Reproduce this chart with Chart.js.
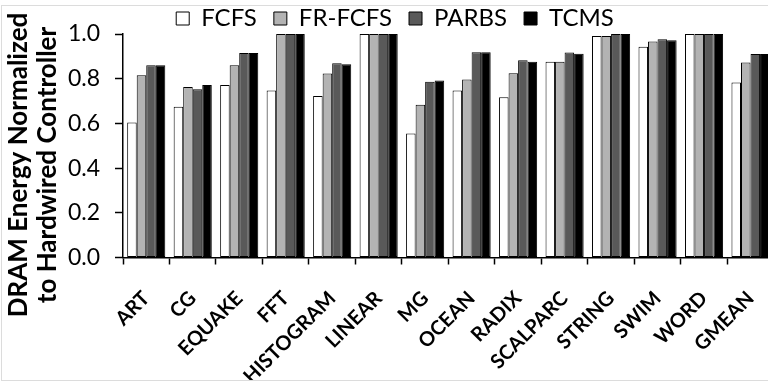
<!DOCTYPE html>
<html>
<head>
<meta charset="utf-8">
<script src="https://cdn.jsdelivr.net/npm/chart.js@4/dist/chart.umd.min.js"></script>
<style>
  html, body { margin: 0; padding: 0; background: #fff; overflow: hidden; width: 768px; height: 381px; }
  #wrap { position: absolute; left: 0; top: 0; width: 790px; height: 381px; }
  #frame { position: absolute; left: 1px; top: 5px; width: 800px; height: 374px; border: 1px solid #dcdcdc; pointer-events: none; }
</style>
</head>
<body>
<div id="wrap"><canvas id="c" width="790" height="381"></canvas></div>
<div id="frame"></div>
<script>
// Benchmarks on the x axis
const categories = ['ART', 'CG', 'EQUAKE', 'FFT', 'HISTOGRAM', 'LINEAR', 'MG', 'OCEAN',
                    'RADIX', 'SCALPARC', 'STRING', 'SWIM', 'WORD', 'GMEAN'];

// DRAM energy normalized to the hardwired controller, one array per scheduler
const fcfs   = [0.604, 0.674, 0.772, 0.747, 0.723, 1.0, 0.555, 0.747, 0.717, 0.876, 0.991, 0.943, 1.0, 0.783];
const frfcfs = [0.815, 0.763, 0.860, 1.0,   0.823, 1.0, 0.684, 0.796, 0.824, 0.876, 0.991, 0.966, 1.0, 0.872];
const parbs  = [0.860, 0.753, 0.915, 1.0,   0.869, 1.0, 0.786, 0.918, 0.882, 0.917, 1.0,   0.976, 1.0, 0.911];
const tcms   = [0.860, 0.772, 0.915, 1.0,   0.865, 1.0, 0.792, 0.918, 0.876, 0.912, 1.0,   0.972, 1.0, 0.911];

const seriesNames = ['FCFS', 'FR-FCFS', 'PARBS', 'TCMS'];
const yTicks = [0, 0.2, 0.4, 0.6, 0.8, 1.0];
const yTitle = ['DRAM Energy Normalized', 'to Hardwired Controller'];

const fills = ['#ffffff', '#b3b3b3', '#595959', '#000000'];

// Layout constants (pixels)
const PAD = { left: 14, right: 14, top: -51, bottom: 0 };
const PLOT_LEFT = 123;
const PLOT_TOP = 34;
const PLOT_BOTTOM = 257.5;
const CANVAS_H = 381;
const TITLE_SIZE = 26;
const TITLE_LINE_H = 29;
const TITLE_PAD_TOP = -10;
const LEGEND_GAP = 17;
const LEGEND_ROW_CENTER = 18.5;

// Fixed legend band height so the plot starts right under it
const legendBand = {
  id: 'legendBand',
  beforeLayout(chart) {
    const lg = chart.legend;
    if (lg && !lg.__fixed) {
      const fit = lg.fit;
      lg.fit = function () { fit.call(this); this.height = PLOT_TOP - PAD.top; };
      lg.__fixed = true;
    }
  }
};

const values = [fcfs, frfcfs, parbs, tcms];
const titleWidth = 2 * TITLE_LINE_H + TITLE_PAD_TOP;
// spacer above the legend row: row top = band top + gap + spacer
const legendSpacer = LEGEND_ROW_CENTER - 12 - LEGEND_GAP - PAD.top;

new Chart(document.getElementById('c'), {
  type: 'bar',
  data: {
    labels: categories,
    datasets: values.map((v, i) => ({
      label: seriesNames[i],
      data: v,
      backgroundColor: fills[i],
      borderColor: '#000',
      borderWidth: 1,
      borderSkipped: false,
      barPercentage: 1.0,
      categoryPercentage: 0.82
    }))
  },
  options: {
    responsive: false,
    animation: false,
    layout: { padding: PAD },
    plugins: {
      tooltip: { enabled: false },
      legend: {
        position: 'top',
        align: 'center',
        title: {
          display: true,
          text: ' ',
          font: { size: 10, lineHeight: 1 },
          padding: { top: 0, bottom: legendSpacer - 10 }
        },
        labels: {
          boxWidth: 13,
          boxHeight: 13,
          padding: LEGEND_GAP,
          color: '#000',
          font: { family: 'Lato', size: 24 }
        }
      },
      // Two-line value-axis caption, drawn rotated at the left edge
      title: {
        display: true,
        position: 'left',
        text: yTitle,
        color: '#000',
        font: { family: 'Lato', size: TITLE_SIZE, weight: 'bold', lineHeight: TITLE_LINE_H / TITLE_SIZE },
        padding: { top: TITLE_PAD_TOP, bottom: 0 }
      }
    },
    scales: {
      x: {
        grid: { offset: true, drawOnChartArea: false, tickLength: 7, color: '#000', tickWidth: 1.5 },
        border: { color: '#000', width: 1.5 },
        ticks: {
          minRotation: 45, maxRotation: 45, autoSkip: false, padding: 22,
          color: '#000',
          font: { family: 'Lato', size: 20, weight: 'bold' }
        },
        afterFit(s) { s.height = CANVAS_H - PAD.bottom - PLOT_BOTTOM; }
      },
      y: {
        min: 0, max: 1,
        afterBuildTicks(s) { s.ticks = yTicks.map(v => ({ value: v })); },
        grid: { drawOnChartArea: false, tickLength: 8, color: '#000', tickWidth: 1.5 },
        border: { color: '#000', width: 1.5 },
        ticks: {
          padding: 15,
          color: '#000',
          font: { family: 'Lato', size: 23 },
          callback: v => Number(v).toFixed(1)
        },
        afterFit(s) { s.width = PLOT_LEFT - PAD.left - titleWidth; }
      }
    }
  },
  plugins: [legendBand]
});
</script>
</body>
</html>
